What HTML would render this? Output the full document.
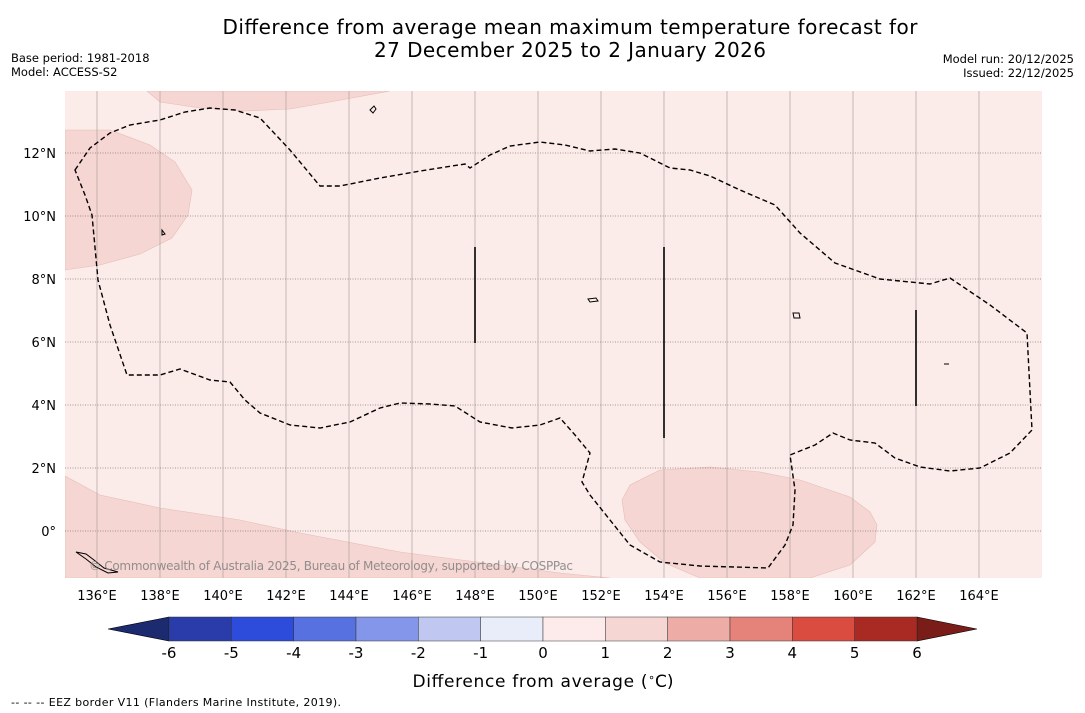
<!DOCTYPE html>
<html><head><meta charset="utf-8"><style>
body{margin:0;background:#fff;font-family:"Liberation Sans","DejaVu Sans",sans-serif}
svg{display:block}
</style></head><body>
<svg width="1085" height="713" viewBox="0 0 1085 713" font-family="DejaVu Sans, Liberation Sans, sans-serif">
<text x="570" y="34" font-size="20" text-anchor="middle" textLength="695">Difference from average mean maximum temperature forecast for</text>
<text x="570" y="57" font-size="20" text-anchor="middle" textLength="392">27 December 2025 to 2 January 2026</text>
<text x="11" y="62" font-size="11.5">Base period: 1981-2018</text>
<text x="11" y="76" font-size="11.5">Model: ACCESS-S2</text>
<text x="1074" y="63" font-size="11.5" text-anchor="end">Model run: 20/12/2025</text>
<text x="1074" y="77" font-size="11.5" text-anchor="end">Issued: 22/12/2025</text>
<g id="map">
<rect x="65" y="91" width="977" height="487" fill="#fbebe9"/>
<clipPath id="mc"><rect x="65" y="91" width="977" height="487"/></clipPath>
<g clip-path="url(#mc)" fill="#f5d6d3" stroke="#e6bdb8" stroke-width="0.6">
<path d="M147,91 L160,102 L200,108 L245,111 L290,109 L330,102 L390,91 Z"/>
<path d="M65,130 L110,130 L150,145 L175,162 L192,190 L188,215 L172,238 L140,254 L100,265 L65,270 Z"/>
<path d="M65,476 L100,495 L160,508 L240,520 L300,533 L400,552 L500,565 L560,573 L610,578 L65,578 Z"/>
<path d="M630,485 L660,470 L710,467 L760,472 L800,480 L850,497 L870,512 L877,525 L875,542 L850,565 L810,578 L700,578 L665,563 L640,542 L625,520 L622,500 Z"/>
</g>
<g id="grid"></g>
<path fill="none" stroke="#000" stroke-width="1.4" stroke-dasharray="5,3" d="M75,170 L90,148 L110,133 L130,125 L160,120 L185,112 L210,108 L235,110 L260,118 L290,150 L320,186 L340,186 L380,178 L420,171 L465,164 L470,168 L490,155 L510,146 L540,142 L565,145 L590,151 L615,149 L640,153 L670,168 L690,170 L710,176 L740,190 L775,205 L800,233 L835,263 L880,279 L930,284 L950,278 L990,305 L1027,333 L1032,430 L1010,453 L980,468 L950,471 L920,467 L895,458 L875,443 L850,440 L833,433 L815,445 L790,455 L795,490 L793,525 L785,545 L768,568 L700,566 L660,562 L630,545 L610,520 L590,495 L582,482 L590,453 L575,435 L560,418 L540,425 L512,428 L480,422 L455,406 L430,404 L400,403 L380,408 L350,422 L320,428 L290,425 L260,413 L245,400 L230,382 L210,380 L180,369 L160,375 L127,375 L110,325 L98,280 L92,215 L85,195 Z"/>
<g stroke="#000" stroke-width="1.6">
<line x1="475" y1="247" x2="475" y2="343"/><line x1="664" y1="247" x2="664" y2="438"/><line x1="916" y1="310" x2="916" y2="406"/>
</g>
<g fill="none" stroke="#000" stroke-width="1">
<path d="M370,110 l4,-4 l2,3 l-3,4 Z"/><path d="M588,299 l8,-1 l2,3 l-8,1 Z"/><path d="M793,313 l6,0 l1,5 l-6,0 Z"/><path d="M162,230 l3,4 l-3,1 Z"/><path d="M944,364 l5,0"/>
<path d="M76,552 l10,2 l8,6 l10,8 l14,4 l-10,1 l-12,-6 l-10,-8 Z"/>
</g>
<text x="89" y="570" font-size="12" fill="#808080" fill-opacity="0.85" textLength="484">© Commonwealth of Australia 2025, Bureau of Meteorology, supported by COSPPac</text>
</g>
<g id="axes"></g>
<g id="cbar"></g>
<text x="543" y="687" font-size="17" text-anchor="middle"><tspan textLength="235">Difference from average (</tspan><tspan baseline-shift="super" font-size="11">∘</tspan>C)</text>
<text x="11" y="706" font-size="11" textLength="330">-- -- -- EEZ border V11 (Flanders Marine Institute, 2019).</text>
</svg>
<script>
const lonTicks=[136,138,140,142,144,146,148,150,152,154,156,158,160,162,164];
const latTicks=[0,2,4,6,8,10,12];
const cbarLevels=[-6,-5,-4,-3,-2,-1,0,1,2,3,4,5,6];
const cbarColors=["#2a3caa","#2d4cdc","#5871e1","#8396ea","#c0c8f2","#e9ecf9","#fcebea","#f5d6d3","#edaca6","#e5827a","#da4b40","#a82a22"];
const NS="http://www.w3.org/2000/svg";
const X=lon=>97+(lon-136)*31.5, Y=lat=>531-lat*31.5;
function mk(t,a,p){const e=document.createElementNS(NS,t);for(const k in a)e.setAttribute(k,a[k]);p.appendChild(e);return e;}
const grid=document.getElementById('grid'),axes=document.getElementById('axes');
lonTicks.forEach(l=>{const x=X(l);
const ln=mk('line',{x1:x,y1:91,x2:x,y2:578,stroke:'#b0a2a0','stroke-width':0.7},grid);


const t=mk('text',{x:x,y:600,'font-size':13,'text-anchor':'middle'},axes);t.textContent=l+'°E';

});
latTicks.forEach(l=>{const y=Y(l);
const ln=mk('line',{x1:65,y1:y,x2:1042,y2:y,stroke:'#8a7a78','stroke-width':0.7,'stroke-dasharray':'1,1.5'},grid);


const t=mk('text',{x:56,y:y+5,'font-size':13,'text-anchor':'end'},axes);t.textContent=l===0?'0°':l+'°N';

});
const cb=document.getElementById('cbar');
const C=v=>169+(v+6)*(917-169)/12;
const lt=mk('polygon',{points:`169,617 108,629 169,641`,fill:'#1c2a70',stroke:'#000','stroke-width':0.6},cb);


const rt=mk('polygon',{points:`917,617 977,629 917,641`,fill:'#7a1c18',stroke:'#000','stroke-width':0.6},cb);


cbarColors.forEach((c,i)=>{const r=mk('rect',{x:C(cbarLevels[i]),y:617,width:C(cbarLevels[i+1])-C(cbarLevels[i]),height:24,fill:c,stroke:'#333','stroke-width':0.5},cb);

});
cbarLevels.forEach(v=>{const t=mk('text',{x:C(v),y:658,'font-size':15,'text-anchor':'middle'},cb);t.textContent=v;

});
</script>
</body></html>
